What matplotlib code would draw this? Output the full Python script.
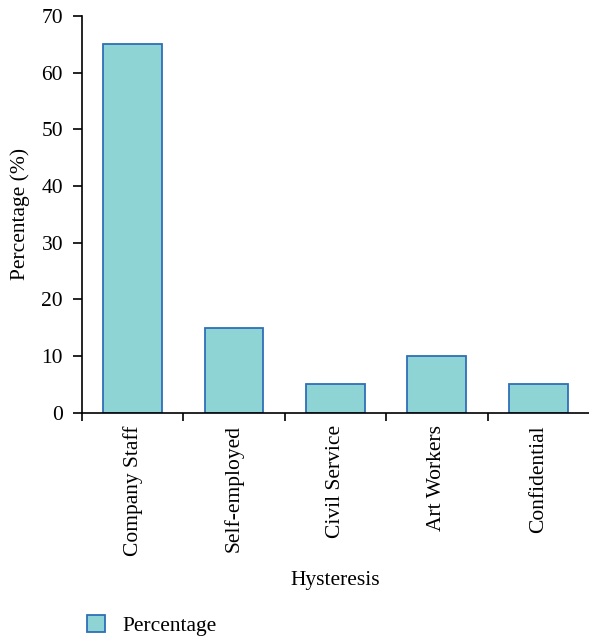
import matplotlib.pyplot as plt
import numpy as np
from matplotlib.patches import Patch

plt.rcParams['font.family'] = ['Liberation Serif', 'DejaVu Serif']

categories = ['Company Staff', 'Self-employed', 'Civil Service', 'Art Workers', 'Confidential']
percentages = [65, 15, 5, 10, 5]

fill_color = '#8fd4d4'
edge_color = '#2f6fb8'
fs = 15.5

fig = plt.figure(figsize=(5.89, 6.39), dpi=100)
ax = fig.add_axes([0.139, 0.354, 0.861, 0.621])

x = np.arange(len(categories))
ax.bar(x, percentages, width=0.58, color=fill_color, edgecolor=edge_color, linewidth=1.3)

ax.set_xlim(-0.5, len(categories) - 0.5)
ax.set_ylim(0, 70)
ax.set_yticks(range(0, 71, 10))

# boundary ticks carry the marks, centre ticks carry the names
ax.set_xticks(np.arange(len(categories)) - 0.5)
ax.set_xticklabels([])
ax.set_xticks(x, minor=True)
ax.set_xticklabels(categories, minor=True, rotation=90, fontsize=fs)
ax.tick_params(axis='x', which='minor', length=0, pad=9)
ax.tick_params(axis='x', which='major', length=6, width=1.2, direction='out')
ax.tick_params(axis='y', length=6.5, width=1.2, labelsize=fs, pad=7)

for s in ['top', 'right']:
    ax.spines[s].set_visible(False)
for s in ['left', 'bottom']:
    ax.spines[s].set_linewidth(1.2)

ax.set_ylabel('Percentage (%)', fontsize=fs, labelpad=8)
ax.set_xlabel('Hysteresis', fontsize=fs, labelpad=11)

handle = Patch(facecolor=fill_color, edgecolor=edge_color, linewidth=1.3)
fig.legend([handle], ['Percentage'], loc='lower left', bbox_to_anchor=(0.115, -0.025),
           frameon=False, fontsize=fs, handlelength=0.85, handleheight=0.85, handletextpad=0.8)

fig.savefig('out.png', dpi=100)
